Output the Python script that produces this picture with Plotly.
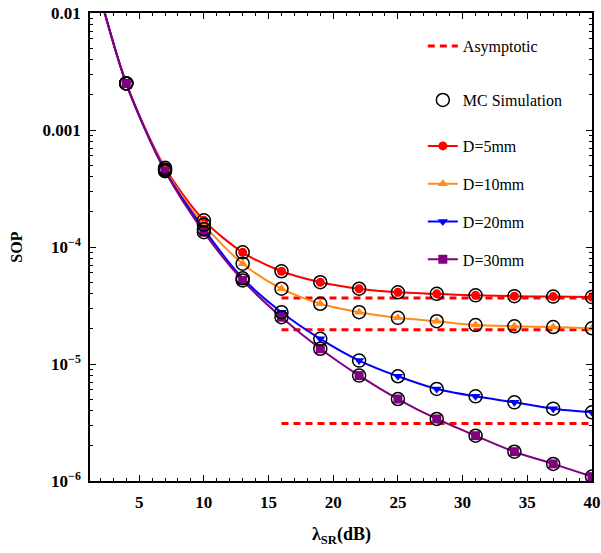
import plotly.graph_objects as go

# ---- data ----
x_vals = [1, 4, 7, 10, 13, 16, 19, 22, 25, 28, 31, 34, 37, 40]
sop_d5 = [0.035, 2.5e-3, 4.75e-4, 1.69e-4, 9.0e-5, 6.2e-5, 5.0e-5, 4.4e-5, 4.1e-5, 3.98e-5, 3.86e-5, 3.8e-5, 3.77e-5, 3.73e-5]
sop_d10 = [0.035, 2.5e-3, 4.6e-4, 1.55e-4, 7.2e-5, 4.4e-5, 3.27e-5, 2.77e-5, 2.48e-5, 2.32e-5, 2.15e-5, 2.1e-5, 2.07e-5, 2.02e-5]
sop_d20 = [0.035, 2.5e-3, 4.5e-4, 1.42e-4, 5.4e-5, 2.77e-5, 1.64e-5, 1.07e-5, 7.85e-6, 6.12e-6, 5.29e-6, 4.7e-6, 4.15e-6, 3.86e-6]
sop_d30 = [0.035, 2.5e-3, 4.45e-4, 1.34e-4, 5.18e-5, 2.51e-5, 1.35e-5, 7.96e-6, 5.02e-6, 3.39e-6, 2.44e-6, 1.78e-6, 1.40e-6, 1.09e-6]
asym_x = [16, 40]
asym_levels = [3.66e-5, 1.96e-5, 3.1e-6]

series_names = ["D=5mm", "D=10mm", "D=20mm", "D=30mm"]
series_vals = [sop_d5, sop_d10, sop_d20, sop_d30]
series_colors = ["#FF0000", "#FF8C1A", "#0000FF", "#800080"]
series_symbols = ["circle", "triangle-up", "triangle-down", "square"]

y_tickvals = [1e-6, 1e-5, 1e-4, 1e-3, 1e-2]
y_ticktext = ["10<sup>−6</sup>", "10<sup>−5</sup>", "10<sup>−4</sup>", "0.001", "0.01"]
y_minor_vals = [k * 10.0 ** e for e in range(-6, -2) for k in range(2, 10)]
x_tickvals = [5, 10, 15, 20, 25, 30, 35, 40]

SERIF = "Liberation Serif, Times New Roman, serif"

fig = go.Figure()

# asymptotic dashed lines
ax, ay = [], []
for lv in asym_levels:
    ax += asym_x + [None]
    ay += [lv, lv, None]
fig.add_trace(go.Scatter(x=ax, y=ay, mode="lines", name="Asymptotic",
                         line=dict(color="#FF0000", width=3, dash="7px,5px"),
                         legend="legend"))

# analytical curves with markers
for i, (nm, vals, col, sym) in enumerate(zip(series_names, series_vals, series_colors, series_symbols)):
    fig.add_trace(go.Scatter(x=x_vals, y=vals, mode="lines+markers", name=nm,
                             line=dict(color=col, width=2, shape="spline", smoothing=0.8),
                             marker=dict(symbol=sym, size=9, color=col, line=dict(width=0)),
                             legend="legend3", legendgroup=nm))

# MC simulation circles
for i, vals in enumerate(series_vals):
    fig.add_trace(go.Scatter(x=x_vals, y=vals, mode="markers", name="MC Simulation",
                             marker=dict(symbol="circle-open", size=13, color="black",
                                         line=dict(width=1.5, color="black")),
                             showlegend=(i == 0), legend="legend2", legendgroup="mc"))

axis_common = dict(showline=True, linecolor="black", linewidth=1.5, mirror="ticks",
                   ticks="inside", tickcolor="black", showgrid=False, zeroline=False,
                   automargin=False,
                   tickfont=dict(family=SERIF, size=17, color="black", weight="bold"))

fig.update_xaxes(range=[1.2, 40], tickvals=x_tickvals, ticklen=6, tickwidth=1.2,
                 minor=dict(ticks="inside", tickmode="linear", tick0=0, dtick=1, ticklen=3,
                            tickcolor="black", tickwidth=1),
                 ticklabelstandoff=5, **axis_common)
fig.update_yaxes(type="log", range=[-6, -2], tickvals=y_tickvals, ticktext=y_ticktext,
                 ticklen=6, tickwidth=1.2,
                 minor=dict(ticks="inside", tickmode="array", tickvals=y_minor_vals, ticklen=3,
                            tickcolor="black", tickwidth=1),
                 ticklabelstandoff=4, **axis_common)

leg_common = dict(bgcolor="rgba(0,0,0,0)", borderwidth=0, xanchor="left", x=0.663,
                  font=dict(family=SERIF, size=16, color="black"), yanchor="middle")
fig.update_layout(
    width=601, height=553,
    margin=dict(l=90, r=9, t=13, b=72, autoexpand=False),
    plot_bgcolor="white", paper_bgcolor="white",
    showlegend=True,
    legend=dict(y=0.9295, **leg_common),
    legend2=dict(y=0.814, **leg_common),
    legend3=dict(y=0.594, tracegroupgap=14, **leg_common),
    annotations=[
        dict(text="<b>SOP</b>", xref="paper", yref="paper", x=-0.148, y=0.5,
             xanchor="center", yanchor="middle", textangle=-90, showarrow=False,
             font=dict(family=SERIF, size=16, color="black")),
        dict(text="<b>λ<sub>SR</sub>(dB)</b>", xref="paper", yref="paper", x=0.5, y=-0.116,
             xanchor="center", yanchor="middle", showarrow=False,
             font=dict(family=SERIF, size=18, color="black")),
    ],
)

fig.write_html("out.html", config={"displayModeBar": False},
               post_script="document.body.style.margin='0';document.body.style.overflow='hidden';")
